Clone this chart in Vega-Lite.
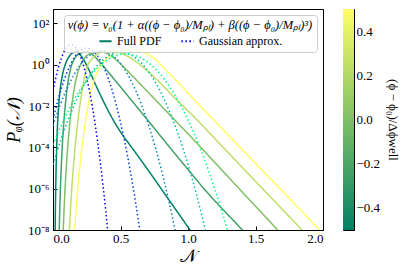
{
  "$schema": "https://vega.github.io/schema/vega-lite/v6.json",
  "padding": {"left": 4, "top": 8, "right": 2, "bottom": 2},
  "config": {
    "font": "Liberation Serif",
    "view": {"stroke": "#000", "strokeWidth": 1},
    "axis": {"grid": false, "domainColor": "#000", "tickColor": "#000", "labelColor": "#000", "titleColor": "#000", "labelFont": "Liberation Serif", "titleFont": "Liberation Serif", "labelFontSize": 13, "titleFontWeight": "normal"}
  },
  "datasets": {
    "curves": [
      {"curve": "F1", "kind": "Full PDF", "param": -0.5, "N": 0.015, "logP": -8.6},
      {"curve": "F1", "kind": "Full PDF", "param": -0.5, "N": 0.016, "logP": -7.98},
      {"curve": "F1", "kind": "Full PDF", "param": -0.5, "N": 0.018, "logP": -6.9},
      {"curve": "F1", "kind": "Full PDF", "param": -0.5, "N": 0.021, "logP": -5.67},
      {"curve": "F1", "kind": "Full PDF", "param": -0.5, "N": 0.025, "logP": -4.49},
      {"curve": "F1", "kind": "Full PDF", "param": -0.5, "N": 0.03, "logP": -3.46},
      {"curve": "F1", "kind": "Full PDF", "param": -0.5, "N": 0.036, "logP": -2.6},
      {"curve": "F1", "kind": "Full PDF", "param": -0.5, "N": 0.045, "logP": -1.73},
      {"curve": "F1", "kind": "Full PDF", "param": -0.5, "N": 0.056, "logP": -1.06},
      {"curve": "F1", "kind": "Full PDF", "param": -0.5, "N": 0.07, "logP": -0.5},
      {"curve": "F1", "kind": "Full PDF", "param": -0.5, "N": 0.09, "logP": 0.0},
      {"curve": "F1", "kind": "Full PDF", "param": -0.5, "N": 0.11, "logP": 0.3},
      {"curve": "F1", "kind": "Full PDF", "param": -0.5, "N": 0.14, "logP": 0.55},
      {"curve": "F1", "kind": "Full PDF", "param": -0.5, "N": 0.17, "logP": 0.63},
      {"curve": "F1", "kind": "Full PDF", "param": -0.5, "N": 0.2, "logP": 0.5},
      {"curve": "F1", "kind": "Full PDF", "param": -0.5, "N": 0.235, "logP": 0.15},
      {"curve": "F1", "kind": "Full PDF", "param": -0.5, "N": 0.27, "logP": -0.3},
      {"curve": "F1", "kind": "Full PDF", "param": -0.5, "N": 0.304, "logP": -0.8},
      {"curve": "F1", "kind": "Full PDF", "param": -0.5, "N": 0.37, "logP": -1.72},
      {"curve": "F1", "kind": "Full PDF", "param": -0.5, "N": 0.443, "logP": -2.64},
      {"curve": "F1", "kind": "Full PDF", "param": -0.5, "N": 0.5, "logP": -3.25},
      {"curve": "F1", "kind": "Full PDF", "param": -0.5, "N": 0.6, "logP": -4.15},
      {"curve": "F1", "kind": "Full PDF", "param": -0.5, "N": 0.726, "logP": -5.3},
      {"curve": "F1", "kind": "Full PDF", "param": -0.5, "N": 0.85, "logP": -6.46},
      {"curve": "F1", "kind": "Full PDF", "param": -0.5, "N": 1.01, "logP": -7.96},
      {"curve": "F1", "kind": "Full PDF", "param": -0.5, "N": 1.04, "logP": -8.25},

      {"curve": "F2", "kind": "Full PDF", "param": -0.25, "N": 0.044, "logP": -8.6},
      {"curve": "F2", "kind": "Full PDF", "param": -0.25, "N": 0.046, "logP": -8.0},
      {"curve": "F2", "kind": "Full PDF", "param": -0.25, "N": 0.05, "logP": -7.02},
      {"curve": "F2", "kind": "Full PDF", "param": -0.25, "N": 0.055, "logP": -5.99},
      {"curve": "F2", "kind": "Full PDF", "param": -0.25, "N": 0.06, "logP": -5.14},
      {"curve": "F2", "kind": "Full PDF", "param": -0.25, "N": 0.07, "logP": -3.8},
      {"curve": "F2", "kind": "Full PDF", "param": -0.25, "N": 0.08, "logP": -2.8},
      {"curve": "F2", "kind": "Full PDF", "param": -0.25, "N": 0.09, "logP": -2.02},
      {"curve": "F2", "kind": "Full PDF", "param": -0.25, "N": 0.106, "logP": -1.07},
      {"curve": "F2", "kind": "Full PDF", "param": -0.25, "N": 0.13, "logP": -0.2},
      {"curve": "F2", "kind": "Full PDF", "param": -0.25, "N": 0.16, "logP": 0.3},
      {"curve": "F2", "kind": "Full PDF", "param": -0.25, "N": 0.2, "logP": 0.55},
      {"curve": "F2", "kind": "Full PDF", "param": -0.25, "N": 0.25, "logP": 0.63},
      {"curve": "F2", "kind": "Full PDF", "param": -0.25, "N": 0.3, "logP": 0.45},
      {"curve": "F2", "kind": "Full PDF", "param": -0.25, "N": 0.35, "logP": 0.1},
      {"curve": "F2", "kind": "Full PDF", "param": -0.25, "N": 0.4, "logP": -0.28},
      {"curve": "F2", "kind": "Full PDF", "param": -0.25, "N": 0.443, "logP": -0.62},
      {"curve": "F2", "kind": "Full PDF", "param": -0.25, "N": 0.55, "logP": -1.47},
      {"curve": "F2", "kind": "Full PDF", "param": -0.25, "N": 0.7, "logP": -2.67},
      {"curve": "F2", "kind": "Full PDF", "param": -0.25, "N": 0.85, "logP": -3.88},
      {"curve": "F2", "kind": "Full PDF", "param": -0.25, "N": 1.0, "logP": -5.07},
      {"curve": "F2", "kind": "Full PDF", "param": -0.25, "N": 1.113, "logP": -5.96},
      {"curve": "F2", "kind": "Full PDF", "param": -0.25, "N": 1.25, "logP": -6.95},
      {"curve": "F2", "kind": "Full PDF", "param": -0.25, "N": 1.4, "logP": -7.98},
      {"curve": "F2", "kind": "Full PDF", "param": -0.25, "N": 1.43, "logP": -8.2},

      {"curve": "F3", "kind": "Full PDF", "param": 0.0, "N": 0.074, "logP": -8.5},
      {"curve": "F3", "kind": "Full PDF", "param": 0.0, "N": 0.076, "logP": -8.0},
      {"curve": "F3", "kind": "Full PDF", "param": 0.0, "N": 0.08, "logP": -7.3},
      {"curve": "F3", "kind": "Full PDF", "param": 0.0, "N": 0.09, "logP": -5.91},
      {"curve": "F3", "kind": "Full PDF", "param": 0.0, "N": 0.1, "logP": -4.8},
      {"curve": "F3", "kind": "Full PDF", "param": 0.0, "N": 0.115, "logP": -3.5},
      {"curve": "F3", "kind": "Full PDF", "param": 0.0, "N": 0.13, "logP": -2.49},
      {"curve": "F3", "kind": "Full PDF", "param": 0.0, "N": 0.16, "logP": -1.05},
      {"curve": "F3", "kind": "Full PDF", "param": 0.0, "N": 0.19, "logP": -0.25},
      {"curve": "F3", "kind": "Full PDF", "param": 0.0, "N": 0.23, "logP": 0.3},
      {"curve": "F3", "kind": "Full PDF", "param": 0.0, "N": 0.28, "logP": 0.55},
      {"curve": "F3", "kind": "Full PDF", "param": 0.0, "N": 0.34, "logP": 0.65},
      {"curve": "F3", "kind": "Full PDF", "param": 0.0, "N": 0.4, "logP": 0.55},
      {"curve": "F3", "kind": "Full PDF", "param": 0.0, "N": 0.46, "logP": 0.28},
      {"curve": "F3", "kind": "Full PDF", "param": 0.0, "N": 0.53, "logP": -0.15},
      {"curve": "F3", "kind": "Full PDF", "param": 0.0, "N": 0.6, "logP": -0.62},
      {"curve": "F3", "kind": "Full PDF", "param": 0.0, "N": 0.7, "logP": -1.3},
      {"curve": "F3", "kind": "Full PDF", "param": 0.0, "N": 0.8, "logP": -1.98},
      {"curve": "F3", "kind": "Full PDF", "param": 0.0, "N": 0.9, "logP": -2.66},
      {"curve": "F3", "kind": "Full PDF", "param": 0.0, "N": 1.039, "logP": -3.61},
      {"curve": "F3", "kind": "Full PDF", "param": 0.0, "N": 1.2, "logP": -4.74},
      {"curve": "F3", "kind": "Full PDF", "param": 0.0, "N": 1.4, "logP": -6.15},
      {"curve": "F3", "kind": "Full PDF", "param": 0.0, "N": 1.66, "logP": -7.98},
      {"curve": "F3", "kind": "Full PDF", "param": 0.0, "N": 1.69, "logP": -8.2},

      {"curve": "F4", "kind": "Full PDF", "param": 0.25, "N": 0.118, "logP": -8.5},
      {"curve": "F4", "kind": "Full PDF", "param": 0.25, "N": 0.121, "logP": -8.0},
      {"curve": "F4", "kind": "Full PDF", "param": 0.25, "N": 0.13, "logP": -6.94},
      {"curve": "F4", "kind": "Full PDF", "param": 0.25, "N": 0.14, "logP": -5.91},
      {"curve": "F4", "kind": "Full PDF", "param": 0.25, "N": 0.16, "logP": -4.25},
      {"curve": "F4", "kind": "Full PDF", "param": 0.25, "N": 0.18, "logP": -2.95},
      {"curve": "F4", "kind": "Full PDF", "param": 0.25, "N": 0.2, "logP": -1.92},
      {"curve": "F4", "kind": "Full PDF", "param": 0.25, "N": 0.22, "logP": -1.07},
      {"curve": "F4", "kind": "Full PDF", "param": 0.25, "N": 0.25, "logP": -0.15},
      {"curve": "F4", "kind": "Full PDF", "param": 0.25, "N": 0.29, "logP": 0.3},
      {"curve": "F4", "kind": "Full PDF", "param": 0.25, "N": 0.34, "logP": 0.55},
      {"curve": "F4", "kind": "Full PDF", "param": 0.25, "N": 0.4, "logP": 0.68},
      {"curve": "F4", "kind": "Full PDF", "param": 0.25, "N": 0.46, "logP": 0.68},
      {"curve": "F4", "kind": "Full PDF", "param": 0.25, "N": 0.52, "logP": 0.52},
      {"curve": "F4", "kind": "Full PDF", "param": 0.25, "N": 0.6, "logP": 0.22},
      {"curve": "F4", "kind": "Full PDF", "param": 0.25, "N": 0.7, "logP": -0.3},
      {"curve": "F4", "kind": "Full PDF", "param": 0.25, "N": 0.8, "logP": -0.92},
      {"curve": "F4", "kind": "Full PDF", "param": 0.25, "N": 0.9, "logP": -1.6},
      {"curve": "F4", "kind": "Full PDF", "param": 0.25, "N": 1.039, "logP": -2.48},
      {"curve": "F4", "kind": "Full PDF", "param": 0.25, "N": 1.25, "logP": -3.93},
      {"curve": "F4", "kind": "Full PDF", "param": 0.25, "N": 1.45, "logP": -5.3},
      {"curve": "F4", "kind": "Full PDF", "param": 0.25, "N": 1.65, "logP": -6.67},
      {"curve": "F4", "kind": "Full PDF", "param": 0.25, "N": 1.84, "logP": -7.98},
      {"curve": "F4", "kind": "Full PDF", "param": 0.25, "N": 1.87, "logP": -8.2},

      {"curve": "F5", "kind": "Full PDF", "param": 0.5, "N": 0.155, "logP": -8.6},
      {"curve": "F5", "kind": "Full PDF", "param": 0.5, "N": 0.16, "logP": -8.0},
      {"curve": "F5", "kind": "Full PDF", "param": 0.5, "N": 0.17, "logP": -7.1},
      {"curve": "F5", "kind": "Full PDF", "param": 0.5, "N": 0.18, "logP": -6.25},
      {"curve": "F5", "kind": "Full PDF", "param": 0.5, "N": 0.19, "logP": -5.5},
      {"curve": "F5", "kind": "Full PDF", "param": 0.5, "N": 0.21, "logP": -4.25},
      {"curve": "F5", "kind": "Full PDF", "param": 0.5, "N": 0.23, "logP": -3.2},
      {"curve": "F5", "kind": "Full PDF", "param": 0.5, "N": 0.25, "logP": -2.35},
      {"curve": "F5", "kind": "Full PDF", "param": 0.5, "N": 0.27, "logP": -1.6},
      {"curve": "F5", "kind": "Full PDF", "param": 0.5, "N": 0.3, "logP": -0.85},
      {"curve": "F5", "kind": "Full PDF", "param": 0.5, "N": 0.34, "logP": -0.2},
      {"curve": "F5", "kind": "Full PDF", "param": 0.5, "N": 0.39, "logP": 0.25},
      {"curve": "F5", "kind": "Full PDF", "param": 0.5, "N": 0.45, "logP": 0.55},
      {"curve": "F5", "kind": "Full PDF", "param": 0.5, "N": 0.52, "logP": 0.7},
      {"curve": "F5", "kind": "Full PDF", "param": 0.5, "N": 0.6, "logP": 0.72},
      {"curve": "F5", "kind": "Full PDF", "param": 0.5, "N": 0.68, "logP": 0.58},
      {"curve": "F5", "kind": "Full PDF", "param": 0.5, "N": 0.76, "logP": 0.25},
      {"curve": "F5", "kind": "Full PDF", "param": 0.5, "N": 0.85, "logP": -0.35},
      {"curve": "F5", "kind": "Full PDF", "param": 0.5, "N": 0.94, "logP": -0.95},
      {"curve": "F5", "kind": "Full PDF", "param": 0.5, "N": 1.04, "logP": -1.65},
      {"curve": "F5", "kind": "Full PDF", "param": 0.5, "N": 1.2, "logP": -2.74},
      {"curve": "F5", "kind": "Full PDF", "param": 0.5, "N": 1.4, "logP": -4.1},
      {"curve": "F5", "kind": "Full PDF", "param": 0.5, "N": 1.6, "logP": -5.45},
      {"curve": "F5", "kind": "Full PDF", "param": 0.5, "N": 1.8, "logP": -6.8},
      {"curve": "F5", "kind": "Full PDF", "param": 0.5, "N": 1.96, "logP": -7.9},
      {"curve": "F5", "kind": "Full PDF", "param": 0.5, "N": 2.0, "logP": -8.17},

      {"curve": "G1", "kind": "Gaussian approx.", "param": -0.5, "N": 0.0, "logP": -1.266},
      {"curve": "G1", "kind": "Gaussian approx.", "param": -0.5, "N": 0.02, "logP": -0.651},
      {"curve": "G1", "kind": "Gaussian approx.", "param": -0.5, "N": 0.04, "logP": -0.134},
      {"curve": "G1", "kind": "Gaussian approx.", "param": -0.5, "N": 0.06, "logP": 0.285},
      {"curve": "G1", "kind": "Gaussian approx.", "param": -0.5, "N": 0.08, "logP": 0.605},
      {"curve": "G1", "kind": "Gaussian approx.", "param": -0.5, "N": 0.1, "logP": 0.826},
      {"curve": "G1", "kind": "Gaussian approx.", "param": -0.5, "N": 0.12, "logP": 0.949},
      {"curve": "G1", "kind": "Gaussian approx.", "param": -0.5, "N": 0.135, "logP": 0.977},
      {"curve": "G1", "kind": "Gaussian approx.", "param": -0.5, "N": 0.15, "logP": 0.949},
      {"curve": "G1", "kind": "Gaussian approx.", "param": -0.5, "N": 0.17, "logP": 0.826},
      {"curve": "G1", "kind": "Gaussian approx.", "param": -0.5, "N": 0.19, "logP": 0.605},
      {"curve": "G1", "kind": "Gaussian approx.", "param": -0.5, "N": 0.21, "logP": 0.285},
      {"curve": "G1", "kind": "Gaussian approx.", "param": -0.5, "N": 0.23, "logP": -0.134},
      {"curve": "G1", "kind": "Gaussian approx.", "param": -0.5, "N": 0.25, "logP": -0.651},
      {"curve": "G1", "kind": "Gaussian approx.", "param": -0.5, "N": 0.27, "logP": -1.266},
      {"curve": "G1", "kind": "Gaussian approx.", "param": -0.5, "N": 0.29, "logP": -1.98},
      {"curve": "G1", "kind": "Gaussian approx.", "param": -0.5, "N": 0.31, "logP": -2.793},
      {"curve": "G1", "kind": "Gaussian approx.", "param": -0.5, "N": 0.33, "logP": -3.704},
      {"curve": "G1", "kind": "Gaussian approx.", "param": -0.5, "N": 0.35, "logP": -4.713},
      {"curve": "G1", "kind": "Gaussian approx.", "param": -0.5, "N": 0.37, "logP": -5.821},
      {"curve": "G1", "kind": "Gaussian approx.", "param": -0.5, "N": 0.39, "logP": -7.028},
      {"curve": "G1", "kind": "Gaussian approx.", "param": -0.5, "N": 0.41, "logP": -8.332},

      {"curve": "G2", "kind": "Gaussian approx.", "param": -0.25, "N": 0.0, "logP": -2.666},
      {"curve": "G2", "kind": "Gaussian approx.", "param": -0.25, "N": 0.04, "logP": -1.636},
      {"curve": "G2", "kind": "Gaussian approx.", "param": -0.25, "N": 0.08, "logP": -0.786},
      {"curve": "G2", "kind": "Gaussian approx.", "param": -0.25, "N": 0.12, "logP": -0.117},
      {"curve": "G2", "kind": "Gaussian approx.", "param": -0.25, "N": 0.16, "logP": 0.371},
      {"curve": "G2", "kind": "Gaussian approx.", "param": -0.25, "N": 0.2, "logP": 0.678},
      {"curve": "G2", "kind": "Gaussian approx.", "param": -0.25, "N": 0.248, "logP": 0.808},
      {"curve": "G2", "kind": "Gaussian approx.", "param": -0.25, "N": 0.29, "logP": 0.709},
      {"curve": "G2", "kind": "Gaussian approx.", "param": -0.25, "N": 0.33, "logP": 0.429},
      {"curve": "G2", "kind": "Gaussian approx.", "param": -0.25, "N": 0.37, "logP": -0.032},
      {"curve": "G2", "kind": "Gaussian approx.", "param": -0.25, "N": 0.41, "logP": -0.674},
      {"curve": "G2", "kind": "Gaussian approx.", "param": -0.25, "N": 0.45, "logP": -1.497},
      {"curve": "G2", "kind": "Gaussian approx.", "param": -0.25, "N": 0.49, "logP": -2.5},
      {"curve": "G2", "kind": "Gaussian approx.", "param": -0.25, "N": 0.53, "logP": -3.684},
      {"curve": "G2", "kind": "Gaussian approx.", "param": -0.25, "N": 0.57, "logP": -5.049},
      {"curve": "G2", "kind": "Gaussian approx.", "param": -0.25, "N": 0.61, "logP": -6.594},
      {"curve": "G2", "kind": "Gaussian approx.", "param": -0.25, "N": 0.65, "logP": -8.321},

      {"curve": "G3", "kind": "Gaussian approx.", "param": 0.0, "N": 0.0, "logP": -2.954},
      {"curve": "G3", "kind": "Gaussian approx.", "param": 0.0, "N": 0.05, "logP": -2.007},
      {"curve": "G3", "kind": "Gaussian approx.", "param": 0.0, "N": 0.1, "logP": -1.204},
      {"curve": "G3", "kind": "Gaussian approx.", "param": 0.0, "N": 0.15, "logP": -0.544},
      {"curve": "G3", "kind": "Gaussian approx.", "param": 0.0, "N": 0.2, "logP": -0.028},
      {"curve": "G3", "kind": "Gaussian approx.", "param": 0.0, "N": 0.25, "logP": 0.345},
      {"curve": "G3", "kind": "Gaussian approx.", "param": 0.0, "N": 0.3, "logP": 0.575},
      {"curve": "G3", "kind": "Gaussian approx.", "param": 0.0, "N": 0.355, "logP": 0.661},
      {"curve": "G3", "kind": "Gaussian approx.", "param": 0.0, "N": 0.41, "logP": 0.575},
      {"curve": "G3", "kind": "Gaussian approx.", "param": 0.0, "N": 0.46, "logP": 0.345},
      {"curve": "G3", "kind": "Gaussian approx.", "param": 0.0, "N": 0.51, "logP": -0.028},
      {"curve": "G3", "kind": "Gaussian approx.", "param": 0.0, "N": 0.56, "logP": -0.544},
      {"curve": "G3", "kind": "Gaussian approx.", "param": 0.0, "N": 0.61, "logP": -1.204},
      {"curve": "G3", "kind": "Gaussian approx.", "param": 0.0, "N": 0.66, "logP": -2.007},
      {"curve": "G3", "kind": "Gaussian approx.", "param": 0.0, "N": 0.71, "logP": -2.954},
      {"curve": "G3", "kind": "Gaussian approx.", "param": 0.0, "N": 0.76, "logP": -4.045},
      {"curve": "G3", "kind": "Gaussian approx.", "param": 0.0, "N": 0.81, "logP": -5.278},
      {"curve": "G3", "kind": "Gaussian approx.", "param": 0.0, "N": 0.86, "logP": -6.655},
      {"curve": "G3", "kind": "Gaussian approx.", "param": 0.0, "N": 0.91, "logP": -8.176},

      {"curve": "G4", "kind": "Gaussian approx.", "param": 0.25, "N": 0.0, "logP": -4.828},
      {"curve": "G4", "kind": "Gaussian approx.", "param": 0.25, "N": 0.06, "logP": -3.603},
      {"curve": "G4", "kind": "Gaussian approx.", "param": 0.25, "N": 0.12, "logP": -2.535},
      {"curve": "G4", "kind": "Gaussian approx.", "param": 0.25, "N": 0.18, "logP": -1.623},
      {"curve": "G4", "kind": "Gaussian approx.", "param": 0.25, "N": 0.24, "logP": -0.867},
      {"curve": "G4", "kind": "Gaussian approx.", "param": 0.25, "N": 0.3, "logP": -0.268},
      {"curve": "G4", "kind": "Gaussian approx.", "param": 0.25, "N": 0.36, "logP": 0.175},
      {"curve": "G4", "kind": "Gaussian approx.", "param": 0.25, "N": 0.42, "logP": 0.462},
      {"curve": "G4", "kind": "Gaussian approx.", "param": 0.25, "N": 0.5, "logP": 0.601},
      {"curve": "G4", "kind": "Gaussian approx.", "param": 0.25, "N": 0.58, "logP": 0.462},
      {"curve": "G4", "kind": "Gaussian approx.", "param": 0.25, "N": 0.64, "logP": 0.175},
      {"curve": "G4", "kind": "Gaussian approx.", "param": 0.25, "N": 0.7, "logP": -0.268},
      {"curve": "G4", "kind": "Gaussian approx.", "param": 0.25, "N": 0.76, "logP": -0.867},
      {"curve": "G4", "kind": "Gaussian approx.", "param": 0.25, "N": 0.82, "logP": -1.623},
      {"curve": "G4", "kind": "Gaussian approx.", "param": 0.25, "N": 0.88, "logP": -2.535},
      {"curve": "G4", "kind": "Gaussian approx.", "param": 0.25, "N": 0.94, "logP": -3.603},
      {"curve": "G4", "kind": "Gaussian approx.", "param": 0.25, "N": 1.0, "logP": -4.828},
      {"curve": "G4", "kind": "Gaussian approx.", "param": 0.25, "N": 1.06, "logP": -6.209},
      {"curve": "G4", "kind": "Gaussian approx.", "param": 0.25, "N": 1.14, "logP": -8.294},

      {"curve": "G5", "kind": "Gaussian approx.", "param": 0.5, "N": 0.0, "logP": -3.876},
      {"curve": "G5", "kind": "Gaussian approx.", "param": 0.5, "N": 0.08, "logP": -2.669},
      {"curve": "G5", "kind": "Gaussian approx.", "param": 0.5, "N": 0.16, "logP": -1.656},
      {"curve": "G5", "kind": "Gaussian approx.", "param": 0.5, "N": 0.24, "logP": -0.836},
      {"curve": "G5", "kind": "Gaussian approx.", "param": 0.5, "N": 0.32, "logP": -0.208},
      {"curve": "G5", "kind": "Gaussian approx.", "param": 0.5, "N": 0.4, "logP": 0.226},
      {"curve": "G5", "kind": "Gaussian approx.", "param": 0.5, "N": 0.47, "logP": 0.448},
      {"curve": "G5", "kind": "Gaussian approx.", "param": 0.5, "N": 0.54, "logP": 0.522},
      {"curve": "G5", "kind": "Gaussian approx.", "param": 0.5, "N": 0.61, "logP": 0.448},
      {"curve": "G5", "kind": "Gaussian approx.", "param": 0.5, "N": 0.68, "logP": 0.226},
      {"curve": "G5", "kind": "Gaussian approx.", "param": 0.5, "N": 0.76, "logP": -0.208},
      {"curve": "G5", "kind": "Gaussian approx.", "param": 0.5, "N": 0.84, "logP": -0.836},
      {"curve": "G5", "kind": "Gaussian approx.", "param": 0.5, "N": 0.92, "logP": -1.656},
      {"curve": "G5", "kind": "Gaussian approx.", "param": 0.5, "N": 1.0, "logP": -2.669},
      {"curve": "G5", "kind": "Gaussian approx.", "param": 0.5, "N": 1.08, "logP": -3.876},
      {"curve": "G5", "kind": "Gaussian approx.", "param": 0.5, "N": 1.16, "logP": -5.275},
      {"curve": "G5", "kind": "Gaussian approx.", "param": 0.5, "N": 1.24, "logP": -6.867},
      {"curve": "G5", "kind": "Gaussian approx.", "param": 0.5, "N": 1.3, "logP": -8.188}
    ],
    "bar": [{"lo": -0.5, "hi": 0.5, "x0": 0, "x1": 1}]
  },
  "spacing": 18,
  "resolve": {"legend": {"strokeDash": "independent", "color": "independent"}},
  "hconcat": [
    {
      "width": 270,
      "height": 221,
      "data": {"name": "curves"},
      "mark": {"type": "line", "clip": true, "strokeWidth": 1.5, "strokeCap": "butt", "interpolate": "monotone"},
      "encoding": {
        "x": {"field": "N", "type": "quantitative", "scale": {"domain": [0, 2], "nice": false},
          "axis": {"values": [0, 0.5, 1, 1.5, 2], "format": ".1f", "title": "𝒩", "titleFontSize": 18, "tickSize": -4, "labelPadding": 6, "titlePadding": 2}},
        "y": {"field": "logP", "type": "quantitative", "scale": {"domain": [-8, 2.7], "nice": false, "zero": false},
          "axis": {"values": [-8, -6, -4, -2, 0, 2], "labelExpr": "datum.value == 2 ? '10²' : datum.value == 0 ? '10⁰' : datum.value == -2 ? '10⁻²' : datum.value == -4 ? '10⁻⁴' : datum.value == -6 ? '10⁻⁶' : '10⁻⁸'", "title": "Pᵩ(𝒩)", "titleFontSize": 18, "titleFontStyle": "italic", "tickSize": -4, "labelPadding": 8, "titlePadding": 4}},
        "color": {"field": "curve", "type": "nominal", "legend": null,
          "scale": {"domain": ["F1", "F2", "F3", "F4", "F5", "G1", "G2", "G3", "G4", "G5"],
                    "range": ["#008066", "#40a066", "#80bf66", "#bfdf66", "#ffff66", "#0000ff", "#0040df", "#0080bf", "#00bf9f", "#00ff80"]}},
        "strokeDash": {"field": "kind", "type": "nominal",
          "scale": {"domain": ["Full PDF", "Gaussian approx."], "range": [[1, 0], [1.5, 2.5]]},
          "legend": {"orient": "top-right", "offset": 6,
            "title": "v(ϕ) = v₀(1 + α((ϕ − ϕ₀)/Mₚₗ) + β((ϕ − ϕ₀)/Mₚₗ)³)",
            "titleFontSize": 12.5, "titleFontStyle": "italic", "titleFontWeight": "normal", "titleAnchor": "middle", "titleLimit": 400, "titlePadding": 2,
            "direction": "horizontal", "columns": 2, "columnPadding": 15,
            "symbolType": "stroke", "symbolSize": 150, "symbolStrokeWidth": 1.8,
            "labelFontSize": 12, "padding": 4,
            "fillColor": "rgba(255,255,255,0.8)", "strokeColor": "#cccccc", "cornerRadius": 3,
            "encode": {"symbols": {"update": {"stroke": {"signal": "datum.value === 'Full PDF' ? '#008066' : '#0000ff'"}}}}}},
        "detail": {"field": "curve"}
      }
    },
    {
      "width": 11,
      "height": 221,
      "data": {"name": "bar"},
      "mark": {"type": "rect", "fill": {"gradient": "linear", "x1": 0, "y1": 1, "x2": 0, "y2": 0, "stops": [{"offset": 0, "color": "#008066"}, {"offset": 1, "color": "#ffff66"}]}},
      "encoding": {
        "x": {"field": "x0", "type": "quantitative", "scale": {"domain": [0, 1], "nice": false}, "axis": null},
        "x2": {"field": "x1"},
        "y": {"field": "lo", "type": "quantitative", "scale": {"domain": [-0.5, 0.5], "nice": false, "zero": false},
          "axis": {"orient": "right", "values": [-0.4, -0.2, 0, 0.2, 0.4], "format": ".1f", "tickSize": -3, "labelPadding": 5, "title": "(ϕ − ϕ₀)/Δϕwell", "titleFontSize": 13, "titlePadding": 6}},
        "y2": {"field": "hi"}
      }
    }
  ]
}
